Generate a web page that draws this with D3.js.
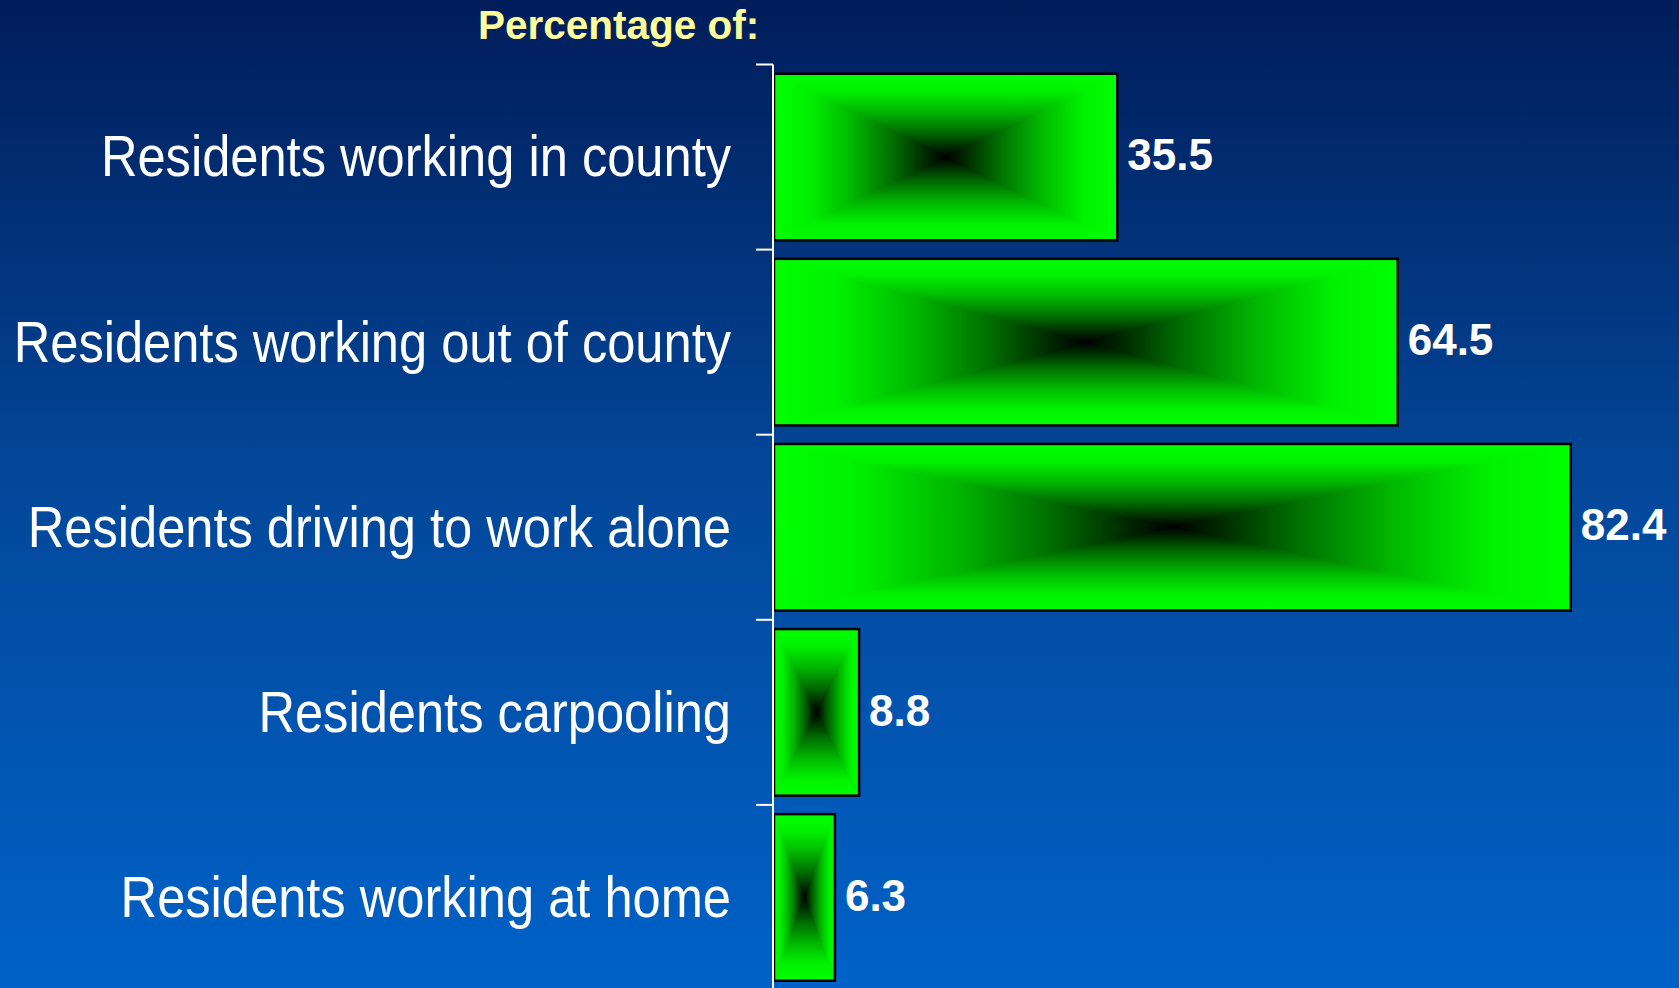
<!DOCTYPE html>
<html>
<head>
<meta charset="utf-8">
<script src="https://cdn.jsdelivr.net/npm/d3@7"></script>
<style>
  html, body { margin: 0; padding: 0; background: #02235f; overflow: hidden; }
</style>
</head>
<body>
<div id="chart"></div>
<script>
(function () {
"use strict";

// Data
var categories = [
  "Residents working in county",
  "Residents working out of county",
  "Residents driving to work alone",
  "Residents carpooling",
  "Residents working at home"
];
var values = [35.5, 64.5, 82.4, 8.8, 6.3];
var valueLabels = ["35.5", "64.5", "82.4", "8.8", "6.3"];
var titleText = "Percentage of:";

var fullWidth = 1679,
    fullHeight = 988;

var axisX = 773;

var xScale = d3.scaleLinear()
  .domain([0, 100])
  .range([axisX + 1, axisX + 968]);

var yScale = d3.scaleBand()
  .domain(categories)
  .range([64.5, 990])
  .paddingInner(0.1)
  .paddingOuter(0.05);

var svg = d3.select("#chart").append("svg")
  .attr("width", fullWidth)
  .attr("height", fullHeight)
  .attr("viewBox", "0 0 " + fullWidth + " " + fullHeight);

var defs = svg.append("defs");

// Background: dark navy at the top fading to a brighter blue
var bg = defs.append("linearGradient")
  .attr("id", "bg-grad")
  .attr("x1", 0).attr("y1", 0).attr("x2", 0).attr("y2", 1);
[[0, "#011d5a"], [0.5, "#03489b"], [1, "#0062c8"]].forEach(function(s) {
  bg.append("stop").attr("offset", s[0]).attr("stop-color", s[1]);
});

// "From centre" rectangle fill: green at the edges, black in the middle.
// t = 0 at the edge, 1 at the centre
var ramp = [[0, "#00ff00"], [0.2, "#00f200"], [0.45, "#00b800"], [0.7, "#006c00"], [0.88, "#002a00"], [1, "#000000"]];

function mirroredGradient(id, vertical) {
  var g = defs.append("linearGradient")
    .attr("id", id)
    .attr("x1", 0).attr("y1", 0)
    .attr("x2", vertical ? 0 : 1)
    .attr("y2", vertical ? 1 : 0);
  ramp.forEach(function(s) {
    g.append("stop").attr("offset", s[0] / 2).attr("stop-color", s[1]);
  });
  ramp.slice().reverse().forEach(function(s) {
    g.append("stop").attr("offset", 1 - s[0] / 2).attr("stop-color", s[1]);
  });
}
mirroredGradient("bar-grad-h", false);
mirroredGradient("bar-grad-v", true);

svg.append("rect")
  .attr("width", fullWidth)
  .attr("height", fullHeight)
  .style("fill", "url(#bg-grad)");

// Title
svg.append("text")
  .attr("x", 478)
  .attr("y", 39)
  .style("fill", "#ffff99")
  .style("font-family", "'Liberation Sans', Arial, sans-serif")
  .style("font-weight", "bold")
  .style("font-size", "40.5px")
  .text(titleText);

var rows = categories.map(function(c, i) {
  return { cat: c, value: values[i], label: valueLabels[i] };
});

// Bars
var barGroup = svg.append("g").attr("id", "bars");

var bars = barGroup.selectAll("g.bar")
    .data(rows)
  .enter()
    .append("g")
    .attr("class", "bar");

// left / right wedges come from the horizontal gradient over the whole bar
bars.append("rect")
  .attr("x", xScale(0))
  .attr("y", function(d) { return yScale(d.cat); })
  .attr("width", function(d) { return xScale(d.value) - xScale(0); })
  .attr("height", yScale.bandwidth())
  .style("fill", "url(#bar-grad-h)");

// top / bottom wedges on top of it
bars.append("path")
  .attr("d", function(d) {
    var x0 = xScale(0), x1 = xScale(d.value),
        y0 = yScale(d.cat), y1 = y0 + yScale.bandwidth(),
        cx = (x0 + x1) / 2, cy = (y0 + y1) / 2;
    return "M" + x0 + "," + y0 + "L" + x1 + "," + y0 + "L" + cx + "," + cy +
           "L" + x1 + "," + y1 + "L" + x0 + "," + y1 + "L" + cx + "," + cy + "Z";
  })
  .style("fill", "url(#bar-grad-v)");

bars.append("rect")
  .attr("x", xScale(0))
  .attr("y", function(d) { return yScale(d.cat); })
  .attr("width", function(d) { return xScale(d.value) - xScale(0); })
  .attr("height", yScale.bandwidth())
  .style("fill", "none")
  .style("stroke", "#000")
  .style("stroke-width", 2.5);

// Value labels
bars.append("text")
  .attr("x", function(d) { return xScale(d.value) + 10; })
  .attr("y", function(d) { return yScale(d.cat) + yScale.bandwidth() / 2; })
  .attr("dy", "0.3em")
  .style("fill", "#fff")
  .style("font-family", "'Liberation Sans', Arial, sans-serif")
  .style("font-weight", "bold")
  .style("font-size", "44px")
  .text(function(d) { return d.label; });

// Category labels (no narrow font installed, so squeeze the regular one)
svg.append("g")
    .attr("id", "cat-labels")
  .selectAll("text")
    .data(rows)
  .enter()
    .append("text")
    .attr("transform", function(d) {
      return "translate(731," + (yScale(d.cat) + yScale.bandwidth() / 2) + ") scale(0.888,1)";
    })
    .attr("dy", "0.34em")
    .style("text-anchor", "end")
    .style("fill", "#fff")
    .style("font-family", "'Liberation Sans', Arial, sans-serif")
    .style("font-size", "57px")
    .text(function(d) { return d.cat; });

// Axis line with ticks on the band boundaries
var step = yScale.step(),
    halfGap = step * yScale.paddingInner() / 2;

svg.append("line")
  .attr("x1", axisX).attr("x2", axisX)
  .attr("y1", yScale(categories[0]) - halfGap)
  .attr("y2", fullHeight)
  .style("stroke", "#fff")
  .style("stroke-width", 2);

svg.append("g")
    .attr("id", "ticks")
  .selectAll("line")
    .data(categories)
  .enter()
    .append("line")
    .attr("x1", axisX - 17).attr("x2", axisX)
    .attr("y1", function(d) { return yScale(d) - halfGap; })
    .attr("y2", function(d) { return yScale(d) - halfGap; })
    .style("stroke", "#fff")
    .style("stroke-width", 2);

})();
</script>
</body>
</html>
